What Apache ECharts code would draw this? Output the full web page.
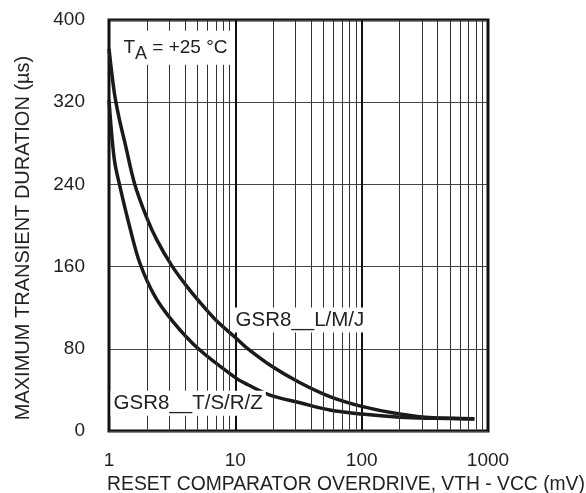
<!DOCTYPE html>
<html><head><meta charset="utf-8">
<script src="https://cdn.jsdelivr.net/npm/echarts@6/dist/echarts.min.js"></script>
<style>html,body{margin:0;padding:0;background:#fff}#c{width:586px;height:493px}</style>
</head><body><div id="c"></div>
<script>
// Data
const xTicks = [1, 10, 100, 1000];
const yTicks = [0, 80, 160, 240, 320, 400];
const minorGridX = [2,3,4,5,6,7,8,9,20,30,40,50,60,70,80,90,200,300,400,500,600,700,800,900];
const lmjX = [1, 1.1, 1.2, 1.34, 1.6, 2, 2.39, 3.14, 4, 5.1, 7, 10, 12.3, 20, 32.5, 56, 100, 200, 367, 780];
const lmjY = [372, 330, 305, 280, 240, 207, 186, 161, 143, 127, 108, 91, 81, 62, 47, 33.5, 24, 16.5, 12.8, 12];
const tsrzX = [1, 1.1, 1.22, 1.47, 1.76, 2.31, 3.23, 5.1, 10, 12.6, 18.8, 32.5, 56, 100, 200, 367, 780];
const tsrzY = [322, 265, 238, 197, 163, 131, 106, 80, 52, 45, 35, 27.5, 20.4, 16.5, 13.5, 12.4, 11.7];
const labelTA = {x: 1.22, y: 373};
const labelLMJ = {x: 9.42, y: 108, text: 'GSR8__L/M/J'};
const labelTSRZ = {x: 1.02, y: 27, text: 'GSR8__T/S/R/Z'};

const zip = (xs, ys) => xs.map((x, i) => [x, ys[i]]);
const FONT = '"Liberation Sans", Arial, sans-serif';
const chart = echarts.init(document.getElementById('c'), null, {renderer: 'canvas'});
const lblStyle = {
  show: true, position: 'right', distance: 0, color: '#222', fontSize: 20.5, fontFamily: FONT,
  backgroundColor: '#fff', padding: [2, 3, 2, 3]
};
chart.setOption({
  animation: false,
  grid: {left: 109, right: 98, top: 20, bottom: 62, containLabel: false, outerBoundsMode: 'none',
    show: true, borderColor: '#111', borderWidth: 3, backgroundColor: 'transparent'},
  xAxis: {
    type: 'log', logBase: 10, min: xTicks[0], max: xTicks[xTicks.length - 1],
    name: 'RESET COMPARATOR OVERDRIVE, VTH - VCC (mV)', nameLocation: 'middle', nameGap: 38,
    nameTextStyle: {fontSize: 19.3, color: '#222', fontFamily: FONT, padding: [0, 0, 0, 95]},
    axisLine: {show: false}, axisTick: {show: false},
    axisLabel: {fontSize: 19, color: '#222', fontFamily: FONT, margin: 20, formatter: v => String(v)},
    splitLine: {show: true, lineStyle: {color: '#111', width: 2}}
  },
  yAxis: {
    type: 'value', min: yTicks[0], max: yTicks[yTicks.length - 1], interval: 80,
    name: 'MAXIMUM TRANSIENT DURATION (µs)', nameLocation: 'middle', nameGap: 76, nameRotate: 90,
    nameTextStyle: {fontSize: 20, color: '#222', fontFamily: FONT, padding: [0, 25, 0, 0]},
    axisLine: {show: false}, axisTick: {show: false},
    axisLabel: {fontSize: 19, color: '#222', fontFamily: FONT, margin: 24},
    splitLine: {show: true, lineStyle: {color: '#444', width: 1}}
  },
  series: [
    {
      type: 'line', data: [], silent: true, z: 1,
      markLine: {
        silent: true, symbol: 'none', label: {show: false},
        lineStyle: {color: '#333', width: 1, type: 'solid'},
        data: minorGridX.map(v => ({xAxis: v}))
      }
    },
    {
      name: 'GSR8__L/M/J', type: 'line', smooth: 0.35, symbol: 'none', z: 3,
      lineStyle: {color: '#1a1a1a', width: 3.5}, data: zip(lmjX, lmjY)
    },
    {
      name: 'GSR8__T/S/R/Z', type: 'line', smooth: 0.35, symbol: 'none', z: 3,
      lineStyle: {color: '#1a1a1a', width: 3.5}, data: zip(tsrzX, tsrzY)
    },
    {
      type: 'line', data: [], z: 10, silent: true,
      markPoint: {
        symbol: 'rect', symbolSize: 1, itemStyle: {color: 'rgba(0,0,0,0)'},
        data: [
          {coord: [labelTA.x, labelTA.y], label: Object.assign({}, lblStyle, {
            formatter: '{t|T}{s|A}{t| = +25 °C}',
            rich: {t: {fontSize: 19, fontFamily: FONT, color: '#222'}, s: {fontSize: 18, fontFamily: FONT, color: '#222', padding: [12, 0, 0, 0]}}
          })},
          {coord: [labelLMJ.x, labelLMJ.y], label: Object.assign({}, lblStyle, {formatter: labelLMJ.text})},
          {coord: [labelTSRZ.x, labelTSRZ.y], label: Object.assign({}, lblStyle, {formatter: labelTSRZ.text})}
        ]
      }
    }
  ]
});
</script></body></html>
